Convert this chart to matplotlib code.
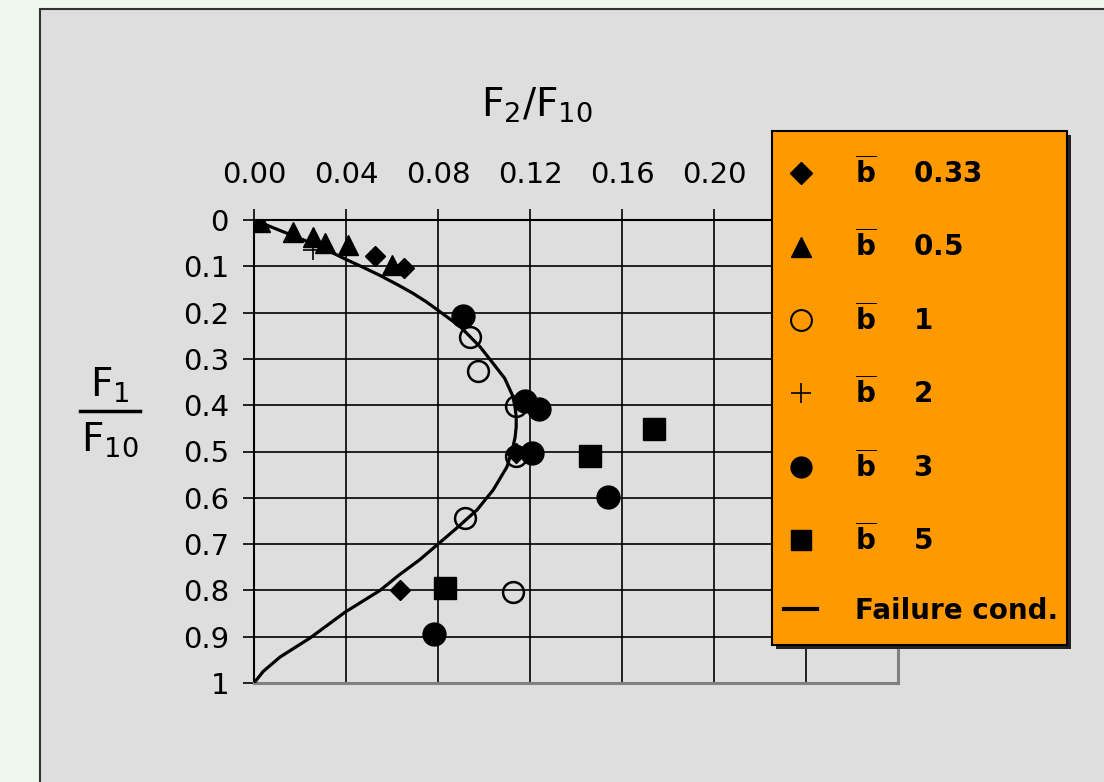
import matplotlib
matplotlib.use("Agg")
import matplotlib.pyplot as plt
from matplotlib.lines import Line2D
from matplotlib.patches import Rectangle

plt.rcParams['font.family'] = ['DejaVu Sans']
plt.rcParams['mathtext.default'] = 'regular'
plt.rcParams['mathtext.fontset'] = 'dejavusans'

# data (x = F2/F10, y = F1/F10)
b033_x = [0.0526, 0.065, 0.114, 0.0635]
b033_y = [0.078, 0.104, 0.503, 0.80]
b05_x = [0.0026, 0.017, 0.0257, 0.031, 0.041, 0.060]
b05_y = [0.004, 0.025, 0.037, 0.050, 0.054, 0.097]
b1_x = [0.094, 0.0974, 0.114, 0.114, 0.0917, 0.1126]
b1_y = [0.253, 0.326, 0.402, 0.510, 0.644, 0.804]
b2_x = [0.0257]
b2_y = [0.065]
b3_x = [0.0909, 0.118, 0.124, 0.121, 0.154, 0.0783]
b3_y = [0.207, 0.391, 0.408, 0.503, 0.598, 0.894]
b5_x = [0.146, 0.174, 0.083]
b5_y = [0.510, 0.451, 0.795]
# failure condition curve
fail_y = [0, 0.02, 0.05, 0.068, 0.084, 0.10, 0.119, 0.14, 0.158, 0.177, 0.195, 0.23, 0.274,
          0.31, 0.342, 0.38, 0.404, 0.425, 0.447, 0.47, 0.49, 0.533, 0.583, 0.626, 0.666,
          0.70, 0.734, 0.767, 0.80, 0.847, 0.903, 0.944, 0.975, 1.0]
fail_x = [0, 0.010, 0.025, 0.033, 0.0395, 0.0465, 0.0545, 0.0625, 0.0690, 0.075, 0.080, 0.0896,
          0.0983, 0.104, 0.109, 0.1125, 0.1135, 0.1140, 0.114, 0.1135, 0.1126, 0.110, 0.104,
          0.097, 0.088, 0.080, 0.072, 0.063, 0.0548, 0.0396, 0.0243, 0.0113, 0.004, 0]

x_ticks = [0.00, 0.04, 0.08, 0.12, 0.16, 0.20, 0.24, 0.28]
x_labels = ['0.00', '0.04', '0.08', '0.12', '0.16', '0.20', '', '']  # last two sit under the legend
y_ticks = [0, 0.1, 0.2, 0.3, 0.4, 0.5, 0.6, 0.7, 0.8, 0.9, 1]
y_labels = ['0', '0.1', '0.2', '0.3', '0.4', '0.5', '0.6', '0.7', '0.8', '0.9', '1']
legend_vals = ['0.33', '0.5', '1', '2', '3', '5']

W, H = 1104, 782
fig = plt.figure(figsize=(W / 100, H / 100), dpi=100)
fig.patch.set_facecolor('#eef8ee')
# grey panel behind the chart
fig.patches.append(Rectangle((40/W, -0.05), 1.1, 1.05 - 9/H, transform=fig.transFigure,
                             facecolor='#dedede', edgecolor='#333333', lw=1.5, zorder=-1))

ax = fig.add_axes([254/W, 1 - 683/H, 644/W, 463/H])
ax.set_zorder(2)
ax.set_facecolor('#dedede')
ax.set_xlim(0, 0.28)
ax.set_ylim(1, 0)
ax.set_xticks(x_ticks)
ax.set_xticklabels(x_labels)
ax.set_yticks(y_ticks)
ax.set_yticklabels(y_labels)
ax.xaxis.tick_top()
ax.tick_params(axis='both', direction='out', length=8, width=1.2, labelsize=21, color='black')
ax.tick_params(axis='x', pad=14)
ax.tick_params(axis='y', pad=10)
ax.grid(True, color='black', lw=1.2)
ax.set_axisbelow(True)
for s in ['left', 'top']:
    ax.spines[s].set_color('black')
    ax.spines[s].set_linewidth(1.5)
for s in ['right', 'bottom']:
    ax.spines[s].set_color('#808080')
    ax.spines[s].set_linewidth(2.2)

ax.plot(fail_x, fail_y, color='black', lw=2.3, zorder=3, solid_joinstyle='round')
ax.plot(b033_x, b033_y, 'D', color='black', ms=10, ls='none', zorder=4)
ax.plot(b05_x, b05_y, '^', color='black', ms=15, ls='none', zorder=4)
ax.plot(b1_x, b1_y, 'o', mfc='none', mec='black', mew=1.8, ms=15, ls='none', zorder=4)
ax.plot(b2_x, b2_y, '+', color='black', ms=15, mew=1.2, ls='none', zorder=4)
ax.plot(b3_x, b3_y, 'o', color='black', ms=16.5, ls='none', zorder=4)
ax.plot(b5_x, b5_y, 's', color='black', ms=16, ls='none', zorder=4)

# legend box (drawn as its own patch with a dark shadow)
lx0, ly0, lx1, ly1 = 772, 131, 1067, 645
fig.add_artist(Rectangle(((lx0 + 4)/W, 1 - (ly1 + 4)/H), (lx1 - lx0)/W, (ly1 - ly0)/H,
                         transform=fig.transFigure, facecolor='#222222', edgecolor='none', zorder=8))
fig.add_artist(Rectangle((lx0/W, 1 - ly1/H), (lx1 - lx0)/W, (ly1 - ly0)/H,
                         transform=fig.transFigure, facecolor='#ff9900', edgecolor='black',
                         lw=1.5, zorder=9))

handles = [
    Line2D([], [], marker='D', color='black', ls='none', ms=11),
    Line2D([], [], marker='^', color='black', ls='none', ms=15),
    Line2D([], [], marker='o', mfc='none', mec='black', mew=1.5, ls='none', ms=15),
    Line2D([], [], marker='+', color='black', ls='none', ms=15, mew=1.2),
    Line2D([], [], marker='o', color='black', ls='none', ms=15),
    Line2D([], [], marker='s', color='black', ls='none', ms=15),
    Line2D([], [], color='black', lw=3),
]
labels = [r'$\overline{\mathbf{b}}$    ' + v for v in legend_vals] + ['Failure cond.']
leg = fig.legend(handles, labels, loc='upper left', bbox_to_anchor=(784/W, 1 - 156/H),
                 borderaxespad=0, frameon=False, prop={'weight': 'bold', 'size': 20},
                 labelspacing=1.46, handlelength=1.2, handletextpad=1.35, borderpad=0)
leg.set_zorder(10)

# axis titles
fig.text(537/W, 1 - 105/H, r'F$_2$/F$_{10}$', ha='center', va='center', fontsize=28)
fig.text(110/W, 1 - 385/H, r'F$_1$', ha='center', va='center', fontsize=28)
fig.add_artist(Line2D([80/W, 140/W], [1 - 411/H, 1 - 411/H], color='black', lw=2.5))
fig.text(110/W, 1 - 440/H, r'F$_{10}$', ha='center', va='center', fontsize=28)

fig.savefig('out.png', dpi=100, facecolor=fig.get_facecolor())
